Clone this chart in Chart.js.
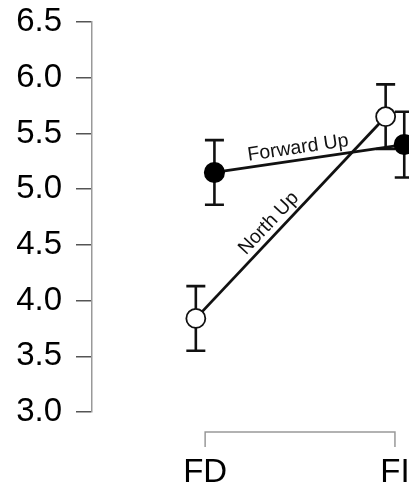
<!DOCTYPE html>
<html>
<head>
<meta charset="utf-8">
<script src="https://cdn.jsdelivr.net/npm/chart.js@4"></script>
<style>
  html, body { margin: 0; padding: 0; background: #fff; overflow: hidden; }
  #frame { width: 409px; height: 491px; overflow: hidden; }
  canvas { display: block; }
</style>
</head>
<body>
<div id="frame">
  <canvas id="chart" width="478" height="491"></canvas>
</div>
<script>
// =========================================================
// DATA
// Two conditions on the x axis, two map orientations.
// Each mean has a +/- error.
// =========================================================
const categories = ["FD", "FI"];
const seriesNames = ["Forward Up", "North Up"];
const forwardUpMeans = [5.15, 5.40];
const forwardUpErrors = [0.29, 0.295];
const northUpMeans = [3.84, 5.65];
const northUpErrors = [0.29, 0.29];
const yTicks = [3.0, 3.5, 4.0, 4.5, 5.0, 5.5, 6.0, 6.5];

// x positions of the two categories, and how far each series
// is nudged left / right so the bars don't sit on each other
const categoryX = [1, 2];
const DODGE = 0.049;

const FONT = "'Liberation Sans', Arial, sans-serif";

// =========================================================
// HELPER: turn means into {x, y, err} points for one series
// =========================================================
function buildPoints(means, errors, shift) {
  return means.map((value, i) => ({
    x: categoryX[i] + shift,
    y: value,
    err: errors[i],
  }));
}

// =========================================================
// PLUGIN: error bars, drawn under the points
// =========================================================
const errorBars = {
  id: "errorBars",
  beforeDatasetsDraw(chart) {
    const ctx = chart.ctx;
    const xScale = chart.scales.x;
    const yScale = chart.scales.y;
    const capHalf = 9.5;

    ctx.save();
    ctx.strokeStyle = "#111";
    ctx.lineWidth = 2.6;
    chart.data.datasets.forEach((dataset) => {
      dataset.data.forEach((point) => {
        const px = xScale.getPixelForValue(point.x);
        const top = yScale.getPixelForValue(point.y + point.err);
        const bottom = yScale.getPixelForValue(point.y - point.err);
        ctx.beginPath();
        ctx.moveTo(px, top);
        ctx.lineTo(px, bottom);
        ctx.moveTo(px - capHalf, top);
        ctx.lineTo(px + capHalf, top);
        ctx.moveTo(px - capHalf, bottom);
        ctx.lineTo(px + capHalf, bottom);
        ctx.stroke();
      });
    });
    ctx.restore();
  },
};

// =========================================================
// PLUGIN: the bracket-style x axis under the plot and the
// series names written along their lines
// =========================================================
const axisAndLabels = {
  id: "axisAndLabels",
  afterDraw(chart) {
    const ctx = chart.ctx;
    const xScale = chart.scales.x;
    const yScale = chart.scales.y;
    const area = chart.chartArea;

    // bracket axis between the two categories
    const x0 = xScale.getPixelForValue(categoryX[0]);
    const x1 = xScale.getPixelForValue(categoryX[categoryX.length - 1]);
    const barY = area.bottom + 20;
    ctx.save();
    ctx.strokeStyle = "#999";
    ctx.lineWidth = 1.5;
    ctx.beginPath();
    ctx.moveTo(x0, barY + 15);
    ctx.lineTo(x0, barY);
    ctx.lineTo(x1, barY);
    ctx.lineTo(x1, barY + 15);
    ctx.stroke();
    ctx.restore();

    // series names along each line
    ctx.save();
    ctx.fillStyle = "#111";
    ctx.font = "19.5px " + FONT;
    ctx.textAlign = "center";
    ctx.textBaseline = "middle";
    const along = [0.45, 0.43];
    chart.data.datasets.forEach((dataset, i) => {
      const a = dataset.data[0];
      const b = dataset.data[1];
      const ax = xScale.getPixelForValue(a.x);
      const ay = yScale.getPixelForValue(a.y);
      const bx = xScale.getPixelForValue(b.x);
      const by = yScale.getPixelForValue(b.y);
      const angle = Math.atan2(by - ay, bx - ax);
      const len = Math.hypot(bx - ax, by - ay);
      const dx = (bx - ax) / len;
      const dy = (by - ay) / len;
      const offset = 12;
      const cx = ax + (bx - ax) * along[i] + dy * offset;
      const cy = ay + (by - ay) * along[i] - dx * offset;
      ctx.save();
      ctx.translate(cx, cy);
      ctx.rotate(angle);
      ctx.fillText(dataset.label, 0, 0);
      ctx.restore();
    });
    ctx.restore();
  },
};

// =========================================================
// BUILD THE CHART
// =========================================================
const chart = new Chart(document.getElementById("chart"), {
  type: "scatter",
  data: {
    datasets: [
      {
        label: seriesNames[0],
        data: buildPoints(forwardUpMeans, forwardUpErrors, DODGE),
        showLine: true,
        borderColor: "#111",
        borderWidth: 2.8,
        pointRadius: 9.8,
        pointBorderWidth: 1.5,
        pointBackgroundColor: "#000",
        pointBorderColor: "#000",
      },
      {
        label: seriesNames[1],
        data: buildPoints(northUpMeans, northUpErrors, -DODGE),
        showLine: true,
        borderColor: "#111",
        borderWidth: 2.8,
        pointRadius: 9.5,
        pointBorderWidth: 1.8,
        pointBackgroundColor: "#fff",
        pointBorderColor: "#111",
      },
    ],
  },
  options: {
    responsive: false,
    animation: false,
    layout: { padding: { top: 22, left: 0, right: 0, bottom: 0 } },
    plugins: {
      legend: { display: false },
      tooltip: { enabled: false },
    },
    scales: {
      x: {
        type: "linear",
        min: 0.404,
        max: 2.378,
        // fixed height under the plot, and no extra room for the labels
        afterFit(scale) {
          scale.height = 79;
          scale.paddingLeft = 0;
          scale.paddingRight = 0;
        },
        afterBuildTicks(scale) {
          scale.ticks = categoryX.map((v) => ({ value: v }));
        },
        border: { display: false },
        grid: { display: false, drawTicks: false },
        ticks: {
          padding: 41,
          maxRotation: 0,
          autoSkip: false,
          color: "#000",
          font: { family: FONT, size: 33 },
          callback: (value) => categories[categoryX.indexOf(value)],
        },
      },
      y: {
        min: yTicks[0],
        max: yTicks[yTicks.length - 1],
        afterFit(scale) {
          scale.width = 92;
          scale.paddingTop = 0;
          scale.paddingBottom = 0;
        },
        afterBuildTicks(scale) {
          scale.ticks = yTicks.map((v) => ({ value: v }));
        },
        border: { display: true, color: "#999", width: 1.5 },
        grid: {
          drawOnChartArea: false,
          drawTicks: true,
          tickLength: 16,
          color: "#555",
          lineWidth: 1.5,
        },
        ticks: {
          padding: 14,
          color: "#000",
          font: { family: FONT, size: 33 },
          callback: (value) => value.toFixed(1),
        },
      },
    },
  },
  plugins: [errorBars, axisAndLabels],
});
</script>
</body>
</html>
